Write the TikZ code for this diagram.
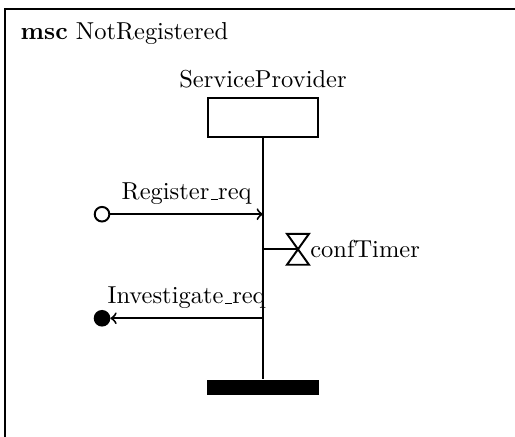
\documentclass[tikz,border=0pt]{standalone}
\usetikzlibrary{positioning}

\newcommand{\usc}{\leavevmode\kern.06em\vbox{\hrule width.3em}}

\begin{document}
\begin{tikzpicture}[
    x=1cm, y=1cm,
    >=to,
    msg/.style={->, line width=0.8pt, draw=black},
    line/.style={line width=0.8pt, draw=black},
    inst/.style={
        draw=black,
        line width=0.8pt,
        minimum width=1.58cm,
        minimum height=0.56cm,
        inner sep=0pt
    },
    stopbar/.style={
        fill=black,
        minimum width=1.62cm,
        minimum height=0.215cm,
        inner sep=0pt
    },
    gate/.style={
        circle,
        draw=black,
        line width=0.8pt,
        minimum size=0.21cm,
        inner sep=0pt
    }
]
    \clip (0,0) rectangle (7.39,6.26);

    %------------------------------------------------
    % ramec
    %------------------------------------------------
    \draw[line] (0.07,-0.5) rectangle (7.8,6.13);
    \node[anchor=west, inner sep=0pt] (title) at (0.29,5.78) {\textbf{msc} NotRegistered};

    %------------------------------------------------
    % instance
    %------------------------------------------------
    \node[inst] (sp) at (3.774,4.57) {};
    \node[above=0.12cm of sp, inner sep=0pt] (splabel) {ServiceProvider};
    \node[stopbar] (stop) at (3.774,0.70) {};
    \draw[line] (sp.south) -- (stop.north);

    %------------------------------------------------
    % zpravy
    %------------------------------------------------
    \node[gate] (src) at (1.464,3.186) {};
    \coordinate (rin) at (3.774,3.186);
    \draw[msg] (src.east) -- node[above=0.12cm, inner sep=0pt] {Register\usc req} (rin);

    \node[gate, fill=black] (dst) at (1.464,1.693) {};
    \coordinate (iout) at (3.774,1.693);
    \draw[msg] (iout) -- node[above=0.12cm, inner sep=0pt] {Investigate\usc req} (dst.east);

    %------------------------------------------------
    % casovac
    %------------------------------------------------
    \coordinate (tl) at (3.774,2.683);
    \coordinate (tm) at (4.276,2.683);
    \draw[line] (tl) -- (tm);
    \draw[line] (tm) ++(-0.158,0.222) -- ++(0.316,0) -- ++(-0.316,-0.444) -- ++(0.316,0) -- cycle;
    \node[right=0.17cm of tm, inner sep=0pt] (timer) {confTimer};

\end{tikzpicture}
\end{document}
